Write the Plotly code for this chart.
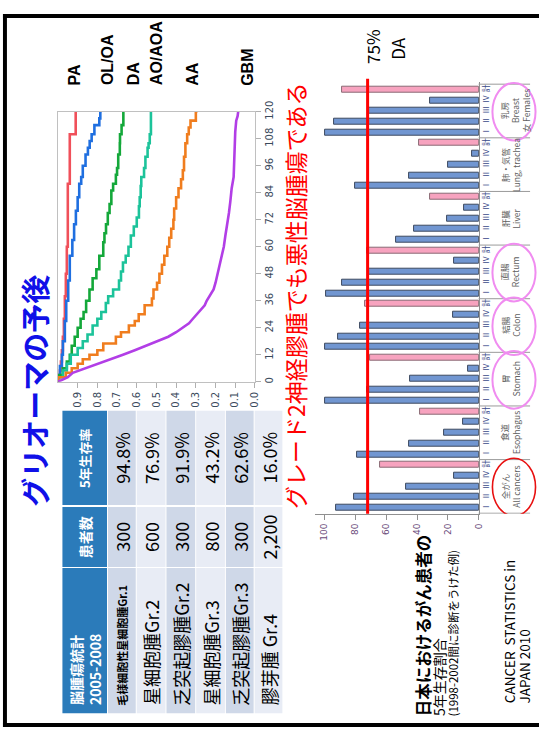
import plotly.graph_objects as go

W, H = 544, 729
def px(x):
    return x / W
def py(y):
    return 1 - y / H

JP = "Noto Sans CJK JP"

# ---------------- Kaplan-Meier data (months, survival) ----------------
km_names = ["PA", "OL/OA", "DA", "AO/AOA", "AA", "GBM"]
km_colors = ["#f0505a", "#1f6fe0", "#14a83a", "#1cc39a", "#f07d1e", "#b23ee6"]
km_shapes = ["vh", "vh", "vh", "vh", "vh", "linear"]

pa_m = [0, 2, 5, 9, 14, 20, 28, 38, 48, 60, 88, 110, 120]
pa_s = [1.0, 0.99, 0.985, 0.98, 0.975, 0.97, 0.965, 0.96, 0.955, 0.95, 0.94, 0.91, 0.91]

ol_m = [0, 3, 7, 12, 18, 27, 36, 45, 56, 63, 70, 76, 82, 88, 91, 96, 101, 104, 107, 110, 114, 117, 120]
ol_s = [1.0, 0.99, 0.98, 0.975, 0.965, 0.958, 0.948, 0.94, 0.927, 0.918, 0.909, 0.9, 0.892, 0.882,
        0.874, 0.86, 0.848, 0.839, 0.829, 0.815, 0.79, 0.785, 0.778]

da_m = [0, 3, 6, 9, 12, 16, 20, 24, 28, 31, 36, 41, 46, 50, 56, 62, 66, 70, 75, 79, 85, 88, 92, 95,
        101, 106, 110, 114, 120]
da_s = [1.0, 0.975, 0.955, 0.94, 0.93, 0.915, 0.9, 0.885, 0.87, 0.857, 0.84, 0.824, 0.805, 0.79, 0.77,
        0.764, 0.756, 0.747, 0.738, 0.729, 0.72, 0.706, 0.7, 0.694, 0.686, 0.685, 0.677, 0.668, 0.668]

ao_m = [0, 2, 5, 8, 12, 15, 18, 21, 25, 28, 31, 35, 38, 41, 45, 49, 53, 56, 60, 65, 69, 73, 78, 82,
        87, 91, 95, 100, 104, 106, 110, 120]
ao_s = [1.0, 0.975, 0.955, 0.935, 0.9, 0.874, 0.85, 0.824, 0.8, 0.78, 0.757, 0.745, 0.72, 0.69, 0.68,
        0.67, 0.656, 0.642, 0.63, 0.615, 0.6, 0.589, 0.585, 0.58, 0.577, 0.563, 0.556, 0.545, 0.54,
        0.534, 0.528, 0.528]

aa_m = [0, 2, 4, 6, 8, 10, 12, 14, 17, 20, 22, 25, 27, 30, 34, 37, 41, 44, 48, 52, 56, 60, 64, 68,
        72, 77, 82, 86, 90, 94, 100, 106, 110, 113, 116, 120]
aa_s = [1.0, 0.96, 0.93, 0.9, 0.874, 0.84, 0.8, 0.77, 0.706, 0.68, 0.64, 0.61, 0.59, 0.56, 0.523,
        0.515, 0.497, 0.485, 0.472, 0.46, 0.445, 0.435, 0.425, 0.414, 0.41, 0.4, 0.388, 0.375, 0.366,
        0.36, 0.353, 0.344, 0.336, 0.327, 0.3, 0.292]

gbm_m = [0, 1, 2, 4, 6, 8, 10, 12, 14, 16, 18, 20, 22, 24, 26, 28, 30, 32, 34, 36, 38, 41, 44, 48,
         52, 56, 60, 65, 70, 75, 80, 86, 91, 96, 101, 106, 111, 116, 118, 120]
gbm_s = [1.0, 0.97, 0.95, 0.925, 0.86, 0.79, 0.73, 0.67, 0.61, 0.55, 0.5, 0.44, 0.4, 0.37, 0.335,
         0.315, 0.295, 0.275, 0.255, 0.245, 0.23, 0.21, 0.2, 0.19, 0.18, 0.17, 0.158, 0.15, 0.14,
         0.132, 0.125, 0.118, 0.108, 0.106, 0.105, 0.102, 0.1, 0.095, 0.088, 0.085]

km_months = [pa_m, ol_m, da_m, ao_m, aa_m, gbm_m]
km_surv = [pa_s, ol_s, da_s, ao_s, aa_s, gbm_s]
km_label_x = [75, 108, 135, 158, 194, 249]

prob_ticks = [0.0, 0.1, 0.2, 0.3, 0.4, 0.5, 0.6, 0.7, 0.8, 0.9]
month_ticks = [0, 12, 24, 36, 48, 60, 72, 84, 96, 108, 120]

# ---------------- Table data ----------------
tbl_names = ["毛様細胞性星細胞腫Gr.1", "星細胞腫Gr.2", "乏突起膠腫Gr.2", "星細胞腫Gr.3", "乏突起膠腫Gr.3", "膠芽腫 Gr.4"]
tbl_counts = ["300", "600", "300", "800", "300", "2,200"]
tbl_rates = ["94.8%", "76.9%", "91.9%", "43.2%", "62.6%", "16.0%"]

# ---------------- Cancer 5-year survival data ----------------
groups_ja = ["乳房", "肺・気管", "肝臓", "直腸", "結腸", "胃", "食道", "全がん"]
groups_en = ["Breast<br>女 Females", "Lung, trachea", "Liver", "Rectum", "Colon", "Stomach", "Esophagus", "All cancers"]
stage_labels = ["計", "Ⅳ", "Ⅲ", "Ⅱ", "Ⅰ"]
total_vals = [88.7, 38.5, 31.6, 72.6, 73.7, 70.5, 38.0, 64.1]
stage4_vals = [31.6, 4.3, 9.6, 16.0, 16.7, 6.8, 10.0, 16.0]
stage3_vals = [71.6, 19.7, 20.3, 71.6, 76.9, 44.4, 22.4, 47.0]
stage2_vals = [94.0, 45.3, 42.1, 88.7, 91.2, 72.2, 44.9, 80.8]
stage1_vals = [99.8, 80.1, 53.8, 98.7, 99.8, 99.4, 79.1, 92.3]
circled_pink = ["乳房", "直腸", "結腸", "胃"]
circled_red = ["全がん"]
reference_line = 72
value_ticks = [0, 20, 40, 60, 80, 100]

fig = go.Figure()

# KM curves
for name, m, s, c, sh in zip(km_names, km_months, km_surv, km_colors, km_shapes):
    fig.add_trace(go.Scatter(x=s, y=m, mode="lines", line=dict(color=c, width=2.6, shape=sh),
                             xaxis="x", yaxis="y", showlegend=False, name=name))

# bars
blue_x, blue_y, pink_x, pink_y = [], [], [], []
tickvals, ticktext = [], []
for g in range(len(groups_ja)):
    vals = [total_vals[g], stage4_vals[g], stage3_vals[g], stage2_vals[g], stage1_vals[g]]
    for k, v in enumerate(vals):
        idx = g * 5 + k
        tickvals.append(idx)
        ticktext.append(stage_labels[k])
        if k == 0:
            pink_x.append(v); pink_y.append(idx)
        else:
            blue_x.append(v); blue_y.append(idx)

fig.add_trace(go.Bar(x=blue_x, y=blue_y, orientation="h", width=0.56, xaxis="x2", yaxis="y2",
                     marker=dict(color="#7196d1", line=dict(color="#3d4a60", width=1)), showlegend=False))
fig.add_trace(go.Bar(x=pink_x, y=pink_y, orientation="h", width=0.56, xaxis="x2", yaxis="y2",
                     marker=dict(color="#f7a3bf", line=dict(color="#8a6a74", width=1)), showlegend=False))

shapes = []
# slide frame
shapes.append(dict(type="rect", xref="paper", yref="paper", x0=px(3), x1=1, y0=py(7), y1=py(3),
                   fillcolor="black", line=dict(width=0)))
shapes.append(dict(type="rect", xref="paper", yref="paper", x0=px(3), x1=px(7), y0=0, y1=py(3),
                   fillcolor="black", line=dict(width=0)))
shapes.append(dict(type="rect", xref="paper", yref="paper", x0=px(3), x1=1, y0=0, y1=py(725),
                   fillcolor="black", line=dict(width=0)))

# table
hdr_x = (63, 108)
row_x = [(109, 137), (138, 167), (168, 197), (198, 227), (228, 256), (257, 285)]
col_y = [(567, 715), (505, 566), (407, 503)]
for (y0, y1) in col_y:
    shapes.append(dict(type="rect", xref="paper", yref="paper", x0=px(hdr_x[0]), x1=px(hdr_x[1]),
                       y0=py(y1), y1=py(y0), fillcolor="#2b7bba", line=dict(width=0)))
for r, (x0, x1) in enumerate(row_x):
    col = "#cfd8e8" if r % 2 == 0 else "#e8ecf5"
    for (y0, y1) in col_y:
        shapes.append(dict(type="rect", xref="paper", yref="paper", x0=px(x0), x1=px(x1),
                           y0=py(y1), y1=py(y0), fillcolor=col, line=dict(width=0)))

# group separators
for g in range(len(groups_ja) + 1):
    shapes.append(dict(type="line", xref="paper", yref="y2", x0=px(483), x1=px(535),
                       y0=g * 5 - 0.5, y1=g * 5 - 0.5, line=dict(color="#9a9a9a", width=1)))
# ellipses
for g, name in enumerate(groups_ja):
    if name in circled_pink or name in circled_red:
        colr = "#e81010" if name in circled_red else "#f08cf0"
        shapes.append(dict(type="circle", xref="paper", yref="y2", x0=px(497), x1=px(540.5),
                           y0=g * 5 - 0.62, y1=g * 5 + 4.75,
                           line=dict(color=colr, width=2 if name in circled_pink else 1.6)))
# reference line
shapes.append(dict(type="line", xref="x2", yref="paper", x0=reference_line, x1=reference_line,
                   y0=py(512), y1=py(69), line=dict(color="#ff0000", width=3)))

ann = []
def A(text, x, y, size, color="black", xanchor="center", yanchor="middle", align="center", family=JP):
    ann.append(dict(text=text, x=x, y=y, xref="paper", yref="paper", showarrow=False, textangle=-90,
                    xanchor=xanchor, yanchor=yanchor, align=align,
                    font=dict(family=family, size=size, color=color)))

# title
A("<b>グリオーマの予後</b>", px(34), py(387), 29, color="#1010e8")
# red message
A("グレード2神経膠腫でも悪性脳腫瘍である", px(298), py(290), 23, color="#ff0000")
# 75% DA
A("75%", px(376), py(36), 17)
A("DA", px(401), py(38), 17)
# KM labels
for name, lx in zip(km_names, km_label_x):
    ann.append(dict(text="<b>%s</b>" % name, x=px(lx), y=py(78), xref="paper", yref="paper",
                    showarrow=False, textangle=-90, xanchor="center", yanchor="bottom",
                    font=dict(family="Liberation Sans", size=16, color="black")))

# table text
A("<b>脳腫瘍統計<br>2005-2008</b>", px(86), py(709), 14, color="white", yanchor="bottom", align="left")
A("<b>患者数</b>", px(86), py(535.5), 14, color="white")
A("<b>5年生存率</b>", px(86), py(455), 13, color="white")
for r, (x0, x1) in enumerate(row_x):
    cx = px((x0 + x1) / 2)
    if r == 0:
        A("<b>%s</b>" % tbl_names[r], cx, py(709), 11, yanchor="bottom")
    else:
        A(tbl_names[r], cx, py(709), 18, yanchor="bottom")
    A(tbl_counts[r], cx, py(535.5), 18)
    A(tbl_rates[r], cx, py(455), 18)

# group labels
for g in range(len(groups_ja)):
    cxp = 520 if "<br>" in groups_en[g] else 515
    ann.append(dict(text="%s<br>%s" % (groups_ja[g], groups_en[g]), x=px(cxp), y=g * 5 + 2,
                    xref="paper", yref="y2", showarrow=False, textangle=-90, xanchor="center",
                    yanchor="middle", align="center", font=dict(family=JP, size=8.5, color="#606060")))

# source texts
A("<b>日本におけるがん患者の</b>", px(427), py(720), 16.5, yanchor="bottom")
A("5年生存割合", px(443), py(720), 14, yanchor="bottom")
A("(1998-2002間に診断をうけた例)", px(457.5), py(720), 11.5, yanchor="bottom")
A("CANCER  STATISTICS in", px(514), py(707), 13.5, yanchor="bottom")
A("JAPAN 2010", px(529), py(707), 13.5, yanchor="bottom")

fig.update_layout(
    width=W, height=H, margin=dict(l=0, r=0, t=0, b=0, pad=0),
    paper_bgcolor="white", plot_bgcolor="white", bargap=0, barmode="overlay",
    shapes=shapes, annotations=ann,
    xaxis=dict(domain=[px(58.5), px(257.3)], range=[1.0, 0.0], tickvals=prob_ticks, tickformat=".1f",
               tickangle=-90, ticks="outside", ticklen=5, tickcolor="#b0b0b0", showline=True,
               linecolor="#c0c0c0", mirror=True, showgrid=False, zeroline=False, anchor="y",
               tickfont=dict(family="DejaVu Sans", size=10, color="#3b4a5c")),
    yaxis=dict(domain=[py(377.5), py(102.5)], range=[0, 120], tickvals=month_ticks, side="right",
               tickangle=-90, ticks="outside", ticklen=5, tickcolor="#b0b0b0", showline=True,
               linecolor="#c0c0c0", mirror=True, showgrid=False, zeroline=False, anchor="x",
               tickfont=dict(family="DejaVu Sans", size=10, color="#3b4a5c")),
    xaxis2=dict(domain=[px(318), px(483.3)], range=[106, 0], tickvals=value_ticks, tickangle=-90,
                ticks="outside", ticklen=5, tickcolor="#909090", showline=True, linecolor="#909090",
                showgrid=False, zeroline=False, anchor="y2",
                tickfont=dict(family="DejaVu Sans", size=9, color="#6a4a7a")),
    yaxis2=dict(domain=[py(512), py(72)], range=[39.56, -0.73], tickvals=tickvals, ticktext=ticktext,
                side="right", tickangle=-90, ticks="", showline=True, linecolor="#909090",
                showgrid=False, zeroline=False, anchor="x2",
                tickfont=dict(family=JP, size=8, color="#3a4a8a")),
)

fig.write_html("out.html")
